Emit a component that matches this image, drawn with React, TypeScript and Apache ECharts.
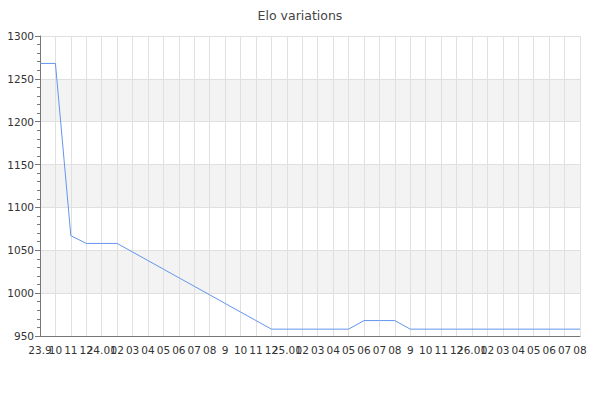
import React, { useEffect, useRef } from "react";
import * as echarts from "echarts";

const months: string[] = [
  "23.9", "10", "11", "12",
  "24.01", "02", "03", "04", "05", "06", "07", "08", "9", "10", "11", "12",
  "25.01", "02", "03", "04", "05", "06", "07", "08", "9", "10", "11", "12",
  "26.01", "02", "03", "04", "05", "06", "07", "08",
];

const elo: number[] = [
  1268, 1268, 1067, 1058, 1058, 1058,
  1048, 1038, 1028, 1018, 1008, 998, 988, 978, 968, 958,
  958, 958, 958, 958, 958,
  968, 968, 968,
  958, 958, 958, 958, 958, 958, 958, 958, 958, 958, 958, 958,
];

const yTicks = { min: 950, max: 1300, interval: 50 };

export default function App() {
  const ref = useRef<HTMLDivElement>(null);
  useEffect(() => {
    if (!ref.current) return;
    const chart = echarts.init(ref.current, undefined, { renderer: "svg" });
    chart.setOption({
      animation: false,
      textStyle: { fontFamily: "DejaVu Sans" },
      title: {
        text: "Elo variations",
        left: "center",
        top: 4,
        textStyle: { fontSize: 12.5, fontWeight: "normal", color: "#444", fontFamily: "DejaVu Sans" },
      },
      grid: { left: 40, right: 20, top: 36, bottom: 64, containLabel: false },
      xAxis: {
        type: "category",
        data: months,
        boundaryGap: false,
        axisLine: { lineStyle: { color: "#777" } },
        axisTick: { show: false },
        axisLabel: { interval: 0, fontSize: 10.5, color: "#333", margin: 8, fontFamily: "DejaVu Sans" },
        splitLine: { show: true, lineStyle: { color: "#e0e0e0" } },
      },
      yAxis: {
        type: "value",
        min: yTicks.min,
        max: yTicks.max,
        interval: yTicks.interval,
        axisLine: { show: true, lineStyle: { color: "#777" } },
        axisTick: { show: true, length: 5, lineStyle: { color: "#777" } },
        minorTick: { show: true, splitNumber: 5, length: 3, lineStyle: { color: "#777" } },
        axisLabel: {
          fontSize: 10.5,
          color: "#333",
          margin: 6,
          fontFamily: "DejaVu Sans",
          formatter: (v: number) => String(v),
        },
        splitLine: { show: true, lineStyle: { color: "#e0e0e0" } },
        splitArea: { show: true, areaStyle: { color: ["rgba(255,255,255,0)", "#f3f3f3"] } },
      },
      series: [
        {
          type: "line",
          data: elo,
          showSymbol: false,
          symbol: "none",
          lineStyle: { width: 1, color: "#6495ed" },
          itemStyle: { color: "#6495ed" },
        },
      ],
    });
    return () => chart.dispose();
  }, []);
  return <div ref={ref} style={{ width: 600, height: 400, margin: -8 }} />;
}
